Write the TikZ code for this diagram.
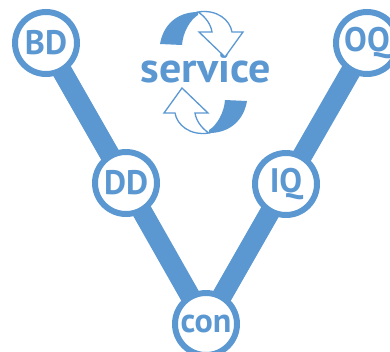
\documentclass[tikz,border=0pt]{standalone}
\usepackage{fontspec}
\setmainfont{PT Sans}
\usetikzlibrary{backgrounds}
\definecolor{blu}{RGB}{91,152,210}
\tikzset{
  ring/.style={circle,draw=blu,line width=6pt,fill=white,minimum size=62pt,inner sep=0pt,text=blu,font=\fontsize{34}{34}\selectfont\bfseries},
  link/.style={draw=blu,line width=20pt},
  hollow/.style={draw=blu,line width=1.3pt,fill=white,line join=miter},
}
\newcommand{\cyclearrow}{%
  \fill[blu] (160,44) .. controls (163,26) and (176,12) .. (198,12) -- (198,15) .. controls (190,20) and (183,32) .. (182,45) -- cycle;
  \draw[hollow] (198,12) .. controls (217,9) and (230,20) .. (232,32) -- (243,32) -- (225,57) -- (199,32) -- (212,32) .. controls (211,25) and (206,17) .. (198,12) -- cycle;
}
\begin{document}
\begin{tikzpicture}[x=1pt,y=-1pt]
\useasboundingbox (0,0) rectangle (390,351);
\node[ring] (BD) at (46,43) {BD};
\node[ring] (DD) at (126,183) {DD};
\node[ring] (IQ) at (286,184) {IQ};
\node[ring] (OQ) at (367,43) {OQ};
\node[ring] (con) at (206,324) {con};
\begin{scope}[on background layer]
\path[link] (BD.center) -- (DD.center);
\path[link] (DD.center) -- (con.center);
\path[link] (OQ.center) -- (IQ.center);
\path[link] (IQ.center) -- (con.center);
\end{scope}
\node[text=blu,font=\fontsize{42}{42}\selectfont\bfseries,inner sep=0pt,anchor=base] (svc) at (206,82) {\scalebox{1.05}[1]{service}};
\cyclearrow
\begin{scope}[rotate around={180:(203.5,72.5)}]
\cyclearrow
\end{scope}
\end{tikzpicture}
\end{document}
